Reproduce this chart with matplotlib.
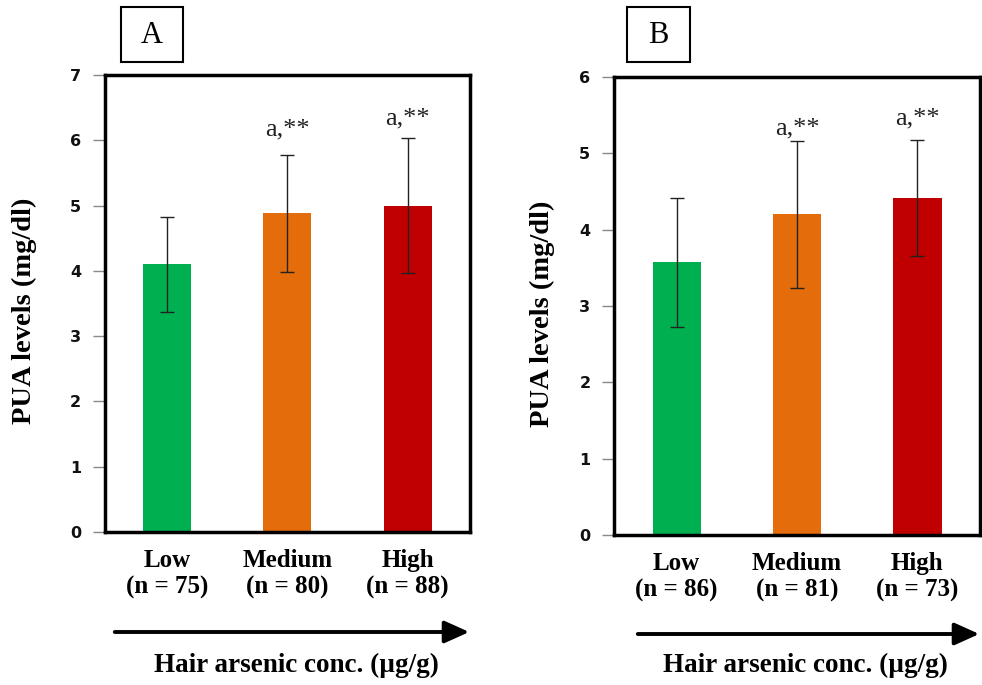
import matplotlib
matplotlib.use("Agg")
import matplotlib.pyplot as plt
from matplotlib.patches import Rectangle, FancyArrowPatch

categories = ["Low", "Medium", "High"]
colors = ["#00B050", "#E46C0A", "#C00000"]

a_means = [4.10, 4.88, 5.00]
a_errs = [0.73, 0.89, 1.04]
a_n = [75, 80, 88]
a_annot = ["", "a,**", "a,**"]
a_annot_y = [None, 6.17, 6.34]
a_ylim = 7

b_means = [3.57, 4.20, 4.41]
b_errs = [0.84, 0.96, 0.76]
b_n = [86, 81, 73]
b_annot = ["", "a,**", "a,**"]
b_annot_y = [None, 5.33, 5.46]
b_ylim = 6

SERIF = ["Liberation Serif", "DejaVu Serif"]
W, H = 982, 685

fig = plt.figure(figsize=(9.82, 6.85), dpi=100)

def fx(px):
    return px / W

def fy(py):
    return 1 - py / H

def panel(rect, means, errs, ns, annots, annot_y, ymax, letter, box_px, ylab_xy, arrow_px, title_x):
    ax = fig.add_axes(rect)
    x = list(range(len(categories)))
    ax.bar(x, means, width=0.4, color=colors, zorder=2)
    ax.errorbar(x, means, yerr=errs, fmt="none", ecolor="#222222", elinewidth=1.0,
                capsize=5, capthick=1.0, zorder=3)
    for xi, t, yy in zip(x, annots, annot_y):
        if t:
            ax.text(xi, yy, t, ha="center", va="center", fontsize=19, family=SERIF, color="#222222")
    ax.set_xlim(-0.52, 2.52)
    ax.set_ylim(0, ymax)
    ax.set_yticks(range(0, ymax + 1))
    ax.set_yticklabels([str(v) for v in range(0, ymax + 1)], fontsize=11.5, fontweight="bold",
                       family=["DejaVu Sans"], color="#111111")
    ax.tick_params(axis="y", direction="out", length=9, width=1, color="#888888", pad=8)
    ax.set_xticks(x)
    ax.set_xticklabels([f"{c}\n(n = {n})" for c, n in zip(categories, ns)], fontsize=18,
                       fontweight="bold", family=SERIF, linespacing=1.2)
    ax.tick_params(axis="x", length=0, pad=12)
    for s in ax.spines.values():
        s.set_linewidth(2.5)
        s.set_color("black")
    ax.set_ylabel("PUA levels (mg/dl)", fontsize=20.5, fontweight="bold", family=SERIF)
    ax.yaxis.set_label_coords(*ylab_xy)
    # label box
    x0, y0, x1, y1 = box_px
    fig.patches.append(Rectangle((fx(x0), fy(y1)), fx(x1 - x0), (y1 - y0) / H,
                                 transform=fig.transFigure, facecolor="white",
                                 edgecolor="black", linewidth=1.5))
    fig.text(fx((x0 + x1) / 2), fy((y0 + y1) / 2 + 1), letter, fontsize=22, family=SERIF,
             ha="center", va="center")
    # arrow
    ax0, ax1, ay = arrow_px
    fig.patches.append(FancyArrowPatch(
        (fx(ax0), fy(ay)), (fx(ax1), fy(ay)), transform=fig.transFigure,
        arrowstyle="-|>,head_length=10,head_width=4.5", linewidth=2.8, color="black",
        mutation_scale=1.5))
    fig.text(fx(title_x), fy(665), "Hair arsenic conc. (µg/g)", fontsize=19.5, fontweight="bold",
             family=SERIF, ha="center", va="center")
    return ax

panel([0.1069, 0.2234, 0.3717, 0.6671], a_means, a_errs, a_n, a_annot, a_annot_y, a_ylim,
      "A", (121, 7, 183, 62), (-0.186, 0.484), (112, 472, 632), 296)
panel([0.6253, 0.2190, 0.3727, 0.6686], b_means, b_errs, b_n, b_annot, b_annot_y, b_ylim,
      "B", (627, 7, 690, 62), (-0.161, 0.484), (635, 982, 634), 805)

fig.savefig("out.png", dpi=100)
